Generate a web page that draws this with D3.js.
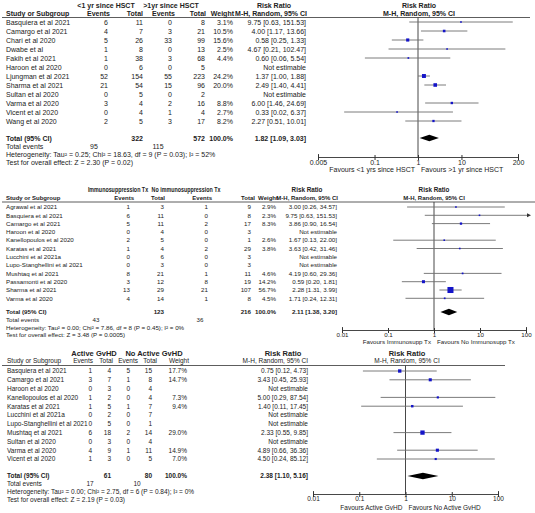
<!DOCTYPE html>
<html><head><meta charset="utf-8">
<script src="https://cdn.jsdelivr.net/npm/d3@7"></script>
<style>
body{margin:0;background:#fff}
svg{display:block}
text{font-family:"Liberation Sans",Arial,sans-serif;fill:#222}
</style>
</head><body>
<svg id="c" width="535" height="513"></svg>
<script>
// ---------- Panel 1: <1 yr vs >1 yr since HSCT ----------
const p1Studies = ["Basquiera et al 2021","Camargo et al 2021","Chari et al 2020","Dwabe et al","Fakih et al 2021","Haroon et al 2020","Ljungman et al 2021","Sharma et al 2021","Sultan et al 2020","Varma et al 2020","Vicent et al 2020","Wang et al 2020"];
const p1Ev1 = [6,4,5,1,1,0,52,21,0,3,0,2];
const p1Tot1 = [11,7,26,8,38,6,154,54,5,4,4,5];
const p1Ev2 = [0,3,33,0,3,0,55,15,0,2,1,3];
const p1Tot2 = [8,21,99,13,68,5,223,96,2,16,4,17];
const p1Weight = [3.1,10.5,15.6,2.5,4.4,null,24.2,20.0,null,8.8,2.7,8.2];
const p1RR = [9.75,4.00,0.58,4.67,0.60,null,1.37,2.49,null,6.00,0.33,2.27];
const p1Lo = [0.63,1.17,0.25,0.21,0.06,null,1.00,1.40,null,1.46,0.02,0.51];
const p1Hi = [151.53,13.66,1.33,102.47,5.54,null,1.88,4.41,null,24.69,6.37,10.01];
const p1Totals = [322,572];
const p1Pooled = [1.82,1.09,3.03];
const p1Events = [95,115];
const p1Ticks = [0.005,0.1,1,10,200];
const p1TickLabels = ["0.005","0.1","1","10","200"];
const p1Groups = ["<1 yr since HSCT",">1yr since HSCT"];
const p1Favours = ["Favours <1 yrs since HSCT","Favours >1 yr since HSCT"];
const p1Het = "Heterogeneity: Tau\u00b2 = 0.25; Chi\u00b2 = 18.63, df = 9 (P = 0.03); I\u00b2 = 52%";
const p1Test = "Test for overall effect: Z = 2.30 (P = 0.02)";

// ---------- Panel 2: Immunosuppression Tx ----------
const p2Studies = ["Agrawal et al 2021","Basquiera et al 2021","Camargo et al 2021","Haroon et al 2020","Kanellopoulos et al 2020","Karatas et al 2021","Lucchini et al 2021a","Lupo-Stanghellini et al 2021","Mushtaq et al 2021","Passamonti et al 2020","Sharma et al 2021","Varma et al 2020"];
const p2Ev1 = [1,6,5,0,2,1,0,0,8,3,13,4];
const p2Tot1 = [3,11,11,4,5,4,6,3,21,12,29,14];
const p2Ev2 = [1,0,2,0,0,2,0,0,1,8,21,1];
const p2Tot2 = [9,8,17,3,1,29,3,3,11,19,107,8];
const p2Weight = [2.9,2.3,8.3,null,2.6,3.8,null,null,4.6,14.2,56.7,4.5];
const p2RR = [3.00,9.75,3.86,null,1.67,3.63,null,null,4.19,0.59,2.28,1.71];
const p2Lo = [0.26,0.63,0.90,null,0.13,0.42,null,null,0.60,0.20,1.31,0.24];
const p2Hi = [34.57,151.53,16.54,null,22.00,31.46,null,null,29.36,1.81,3.99,12.31];
const p2Totals = [123,216];
const p2Pooled = [2.11,1.38,3.20];
const p2Events = [43,36];
const p2Ticks = [0.01,0.1,1,10,100];
const p2TickLabels = ["0.01","0.1","1","10","100"];
const p2Groups = ["Immunosuppression Tx","No immunosuppression Tx"];
const p2Favours = ["Favours Immunosupp Tx","Favours No Immunosupp Tx"];
const p2Het = "Heterogeneity: Tau\u00b2 = 0.00; Chi\u00b2 = 7.86, df = 8 (P = 0.45); I\u00b2 = 0%";
const p2Test = "Test for overall effect: Z = 3.48 (P = 0.0005)";

// ---------- Panel 3: Active GvHD ----------
const p3Studies = ["Basquiera et al 2021","Camargo et al 2021","Haroon et al 2020","Kanellopoulos et al 2020","Karatas et al 2021","Lucchini et al 2021a","Lupo-Stanghellini et al 2021","Mushtaq et al 2021","Sultan et al 2020","Varma et al 2020","Vicent et al 2020"];
const p3Ev1 = [1,3,0,1,1,0,0,6,0,4,1];
const p3Tot1 = [4,7,3,2,5,2,5,18,3,9,3];
const p3Ev2 = [5,1,0,0,1,0,0,2,0,1,0];
const p3Tot2 = [15,8,4,4,7,7,1,14,4,11,5];
const p3Weight = [17.7,14.7,null,7.3,9.4,null,null,29.0,null,14.9,7.0];
const p3RR = [0.75,3.43,null,5.00,1.40,null,null,2.33,null,4.89,4.50];
const p3Lo = [0.12,0.45,null,0.29,0.11,null,null,0.55,null,0.66,0.24];
const p3Hi = [4.73,25.93,null,87.54,17.45,null,null,9.85,null,36.36,85.12];
const p3Totals = [61,80];
const p3Pooled = [2.38,1.10,5.16];
const p3Events = [17,10];
const p3Ticks = [0.01,0.1,1,10,100];
const p3TickLabels = ["0.01","0.1","1","10","100"];
const p3Groups = ["Active GvHD","No Active GvHD"];
const p3Favours = ["Favours Active GvHD","Favours No Active GvHD"];
const p3Het = "Heterogeneity: Tau\u00b2 = 0.00; Chi\u00b2 = 2.75, df = 6 (P = 0.84); I\u00b2 = 0%";
const p3Test = "Test for overall effect: Z = 2.19 (P = 0.03)";

const svg = d3.select("#c");
const fmt2 = v => v.toFixed(2);

function drawPanel(D, L) {
  const g = svg.append("g");
  const x = d3.scaleLog().domain([D.ticks[0], D.ticks[D.ticks.length-1]]).range(L.axis);
  const txt = (xx, yc, s, anchor, bold, size, sx) => {
    const fs = size || L.fs;
    return g.append("text")
      .attr("transform", `translate(${xx},${yc + fs*0.36}) scale(${sx || 1},1)`)
      .attr("text-anchor", anchor || "start")
      .attr("font-weight", bold ? "bold" : "normal")
      .attr("font-size", fs).text(s);
  };
  // header row 1
  txt(L.grpC[0], L.h1, D.groups[0], "middle", true, L.hfs, L.hsx);
  txt(L.grpC[1], L.h1, D.groups[1], "middle", true, L.hfs, L.hsx);
  txt(L.rrTableC, L.h1, "Risk Ratio", "middle", true, L.hfs);
  txt(L.plotC, L.h1, "Risk Ratio", "middle", true, L.hfs);
  // header row 2
  const hb = L.h2bold, h2fs = L.h2fs || L.fs;
  txt(L.nameX, L.h2, "Study or Subgroup", "start", hb, h2fs);
  txt(L.hcol[0], L.h2, "Events", "end", hb, h2fs);
  txt(L.hcol[1], L.h2, "Total", "end", hb, h2fs);
  txt(L.hcol[2], L.h2, "Events", "end", hb, h2fs);
  txt(L.hcol[3], L.h2, "Total", "end", hb, h2fs);
  txt(L.hcol[4], L.h2, "Weight", "end", hb, h2fs);
  txt(L.hcol[5], L.h2, "M-H, Random, 95% CI", "end", hb, h2fs);
  txt(L.plotC, L.h2, "M-H, Random, 95% CI", "middle", hb, h2fs);
  // header line
  g.append("line").attr("x1", L.lineX[0]).attr("x2", L.lineX[1])
    .attr("y1", L.hline).attr("y2", L.hline).attr("stroke", "#333").attr("stroke-width", 0.8);

  const rowY = i => L.row0 + i*L.rowStep;
  // null line
  g.append("line").attr("x1", x(1)).attr("x2", x(1))
    .attr("y1", L.hline).attr("y2", L.axisY).attr("stroke", "#333").attr("stroke-width", 0.9);

  D.studies.forEach((s, i) => {
    const y = rowY(i);
    txt(L.nameX, y, s);
    txt(L.col[0], y, D.ev1[i], "end");
    txt(L.col[1], y, D.tot1[i], "end");
    txt(L.col[2], y, D.ev2[i], "end");
    txt(L.col[3], y, D.tot2[i], "end");
    if (D.rr[i] == null) {
      txt(L.col[5], y, "Not estimable", "end");
      return;
    }
    txt(L.col[4], y, D.weight[i].toFixed(1) + "%", "end");
    txt(L.col[5], y, `${fmt2(D.rr[i])} [${fmt2(D.lo[i])}, ${fmt2(D.hi[i])}]`, "end");
    const [r0, r1] = L.axis;
    const xl = Math.max(r0, x(D.lo[i]));
    const over = x(D.hi[i]) > r1 + 2;
    const xh = over ? r1 + 3 : x(D.hi[i]);
    g.append("line").attr("x1", xl).attr("x2", xh).attr("y1", y).attr("y2", y)
      .attr("stroke", "#6d6d6d").attr("stroke-width", 0.9);
    if (over) {
      g.append("path").attr("d", `M${xh+2},${y} L${xh-2},${y-2} L${xh-2},${y+2} Z`).attr("fill", "#333");
    }
    const sz = Math.max(1.6, Math.sqrt(D.weight[i]) * 0.8);
    g.append("rect").attr("x", x(D.rr[i]) - sz/2).attr("y", y - sz/2)
      .attr("width", sz).attr("height", sz).attr("fill", "#1414c8");
  });

  // total row
  const ty = L.totalY;
  txt(L.nameX, ty, "Total (95% CI)", "start", true);
  txt(L.col[1], ty, D.totals[0], "end", true);
  txt(L.col[3], ty, D.totals[1], "end", true);
  txt(L.col[4], ty, "100.0%", "end", true);
  txt(L.col[5], ty, `${fmt2(D.pooled[0])} [${fmt2(D.pooled[1])}, ${fmt2(D.pooled[2])}]`, "end", true);
  const dh = 3.3;
  g.append("path").attr("d",
    `M${x(D.pooled[1])},${ty} L${x(D.pooled[0])},${ty-dh} L${x(D.pooled[2])},${ty} L${x(D.pooled[0])},${ty+dh} Z`)
    .attr("fill", "#000");

  txt(L.nameX, ty + L.footStep, "Total events");
  txt(L.evC[0], ty + L.footStep, D.events[0], "middle");
  txt(L.evC[1], ty + L.footStep, D.events[1], "middle");
  txt(L.nameX, ty + 2*L.footStep, D.het);
  txt(L.nameX, ty + 3*L.footStep, D.test);

  // axis
  const ax = d3.axisBottom(x).tickValues(D.ticks)
    .tickFormat((v, i) => D.tickLabels[i]).tickSize(-3).tickPadding(4);
  const ag = g.append("g").attr("transform", `translate(0,${L.axisY})`).call(ax);
  ag.select(".domain").attr("stroke", "#333").attr("stroke-width", 0.9);
  ag.selectAll(".tick line").attr("stroke", "#333").attr("y2", 3).attr("y1", -2);
  ag.selectAll(".tick text").attr("font-size", L.fs).attr("fill", "#222")
    .attr("font-family", '"Liberation Sans",Arial,sans-serif').attr("dy", "0.5em");
  txt(x(1) - L.favGap, L.favY, D.favours[0], "end");
  txt(x(1) + L.favGap, L.favY, D.favours[1], "start");
}

drawPanel({
  studies: p1Studies, ev1: p1Ev1, tot1: p1Tot1, ev2: p1Ev2, tot2: p1Tot2,
  weight: p1Weight, rr: p1RR, lo: p1Lo, hi: p1Hi, totals: p1Totals, pooled: p1Pooled,
  events: p1Events, ticks: p1Ticks, tickLabels: p1TickLabels, groups: p1Groups,
  favours: p1Favours, het: p1Het, test: p1Test
}, {
  fs: 7, hfs: 7, h2bold: true, nameX: 6, h1: 5, h2: 13, hline: 17.5,
  grpC: [106, 171], rrTableC: 274, plotC: 419,
  hcol: [110, 143, 175, 206, 234, 307], col: [108, 143, 172, 205, 233, 306],
  lineX: [2, 530], row0: 22, rowStep: 9, totalY: 138, footStep: 8.3,
  evC: [94, 158], axis: [318, 518], axisY: 157, favY: 169.5, favGap: 3
});

drawPanel({
  studies: p2Studies, ev1: p2Ev1, tot1: p2Tot1, ev2: p2Ev2, tot2: p2Tot2,
  weight: p2Weight, rr: p2RR, lo: p2Lo, hi: p2Hi, totals: p2Totals, pooled: p2Pooled,
  events: p2Events, ticks: p2Ticks, tickLabels: p2TickLabels, groups: p2Groups,
  favours: p2Favours, het: p2Het, test: p2Test
}, {
  fs: 6.2, hfs: 6.3, hsx: 0.85, h2fs: 6, h2bold: true, nameX: 6, h1: 190, h2: 198, hline: 202,
  grpC: [118, 186], rrTableC: 307, plotC: 434,
  hcol: [134, 165, 212, 255, 278, 338], col: [130, 164, 208, 251, 276, 337],
  lineX: [2, 535], row0: 207, rowStep: 8.3, totalY: 312, footStep: 7.7,
  evC: [96, 200], axis: [342, 526], axisY: 330, favY: 342, favGap: 3
});

drawPanel({
  studies: p3Studies, ev1: p3Ev1, tot1: p3Tot1, ev2: p3Ev2, tot2: p3Tot2,
  weight: p3Weight, rr: p3RR, lo: p3Lo, hi: p3Hi, totals: p3Totals, pooled: p3Pooled,
  events: p3Events, ticks: p3Ticks, tickLabels: p3TickLabels, groups: p3Groups,
  favours: p3Favours, het: p3Het, test: p3Test
}, {
  fs: 6.5, hfs: 7.5, h2bold: false, nameX: 7, h1: 353, h2: 361, hline: 365.5,
  grpC: [94, 154], rrTableC: 283, plotC: 407,
  hcol: [93, 113, 138, 157, 189, 308], col: [92, 111, 130, 152, 187, 308],
  lineX: [2, 505], row0: 371, rowStep: 8.8, totalY: 476, footStep: 8,
  evC: [90, 137], axis: [313, 498], axisY: 494, favY: 508, favGap: 3
});
</script>
</body></html>
